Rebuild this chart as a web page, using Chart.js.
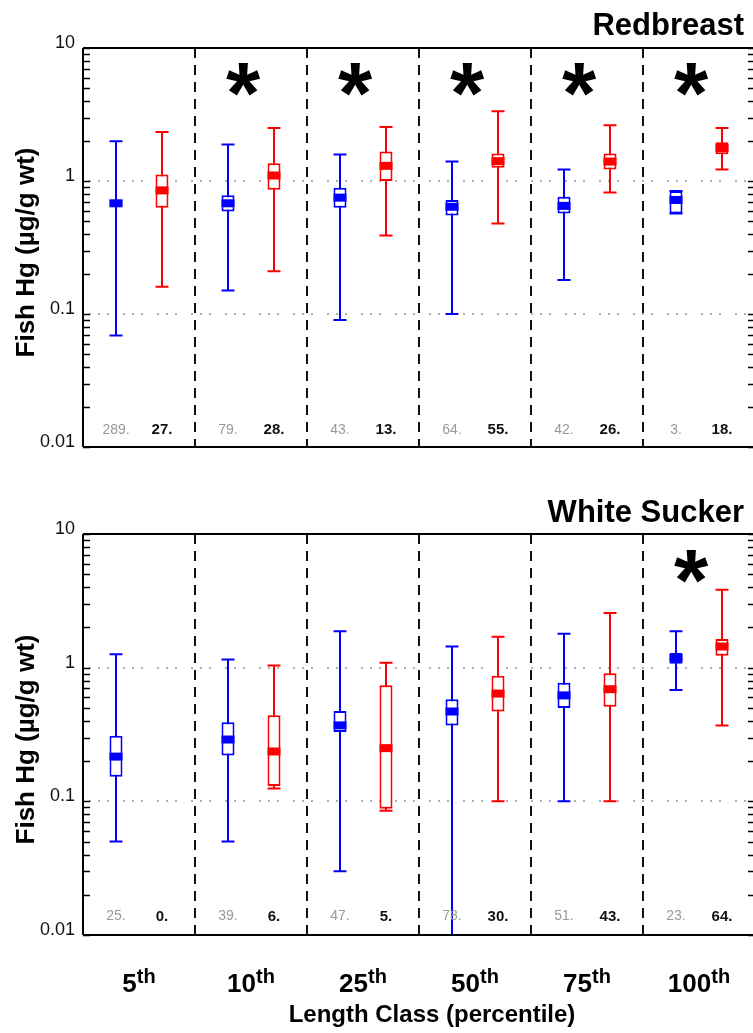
<!DOCTYPE html>
<html>
<head>
<meta charset="utf-8">
<script src="https://cdn.jsdelivr.net/npm/chart.js@4"></script>
<style>
	html, body { margin: 0; padding: 0; background: #fff; overflow: hidden; }
	canvas { display: block; }
</style>
</head>
<body>
<canvas id="rbChart" width="760" height="470"></canvas>
<canvas id="wsChart" width="760" height="563"></canvas>
<script>
// --- DONNEES --- //
const classes = ['5th','10th','25th','50th','75th','100th'];
const classNum = ['5','10','25','50','75','100'];
const gridValues = [0.1, 1];
const yTicks = [0.01, 0.1, 1, 10];
const yTickLabels = ['0.01','0.1','1','10'];

// Redbreast
const rbBlueMin = [0.069, 0.15, 0.09, 0.10, 0.18, 0.57];
const rbBlueQ1  = [0.64, 0.59, 0.63, 0.55, 0.57, 0.57];
const rbBlueMed = [0.68, 0.68, 0.75, 0.64, 0.65, 0.72];
const rbBlueQ3  = [0.72, 0.78, 0.89, 0.72, 0.76, 0.84];
const rbBlueMax = [1.99, 1.88, 1.58, 1.40, 1.22, 0.84];
const rbRedMin  = [0.16, 0.21, 0.39, 0.48, 0.82, 1.22];
const rbRedQ1   = [0.63, 0.86, 1.00, 1.26, 1.22, 1.59];
const rbRedMed  = [0.85, 1.10, 1.30, 1.41, 1.40, 1.77];
const rbRedQ3   = [1.12, 1.36, 1.67, 1.61, 1.61, 1.96];
const rbRedMax  = [2.34, 2.50, 2.55, 3.34, 2.62, 2.50];
const rbBlueN = [289, 79, 43, 64, 42, 3];
const rbRedN  = [27, 28, 13, 55, 26, 18];
const rbSignif = [false, true, true, true, true, true];

// White Sucker
const wsBlueMin = [0.05, 0.05, 0.03, 0.01, 0.10, 0.68];
const wsBlueQ1  = [0.153, 0.22, 0.33, 0.37, 0.50, 1.07];
const wsBlueMed = [0.216, 0.29, 0.37, 0.47, 0.62, 1.18];
const wsBlueQ3  = [0.31, 0.39, 0.475, 0.58, 0.77, 1.29];
const wsBlueMax = [1.26, 1.15, 1.87, 1.44, 1.79, 1.87];
const wsRedMin  = [null, 0.125, 0.085, 0.10, 0.10, 0.37];
const wsRedQ1   = [null, 0.13, 0.088, 0.47, 0.51, 1.23];
const wsRedMed  = [null, 0.236, 0.25, 0.64, 0.69, 1.44];
const wsRedQ3   = [null, 0.44, 0.74, 0.87, 0.91, 1.64];
const wsRedMax  = [null, 1.04, 1.09, 1.70, 2.56, 3.83];
const wsBlueN = [25, 39, 47, 78, 51, 23];
const wsRedN  = [0, 6, 5, 30, 43, 64];
const wsSignif = [false, false, false, false, false, true];

const BLUE = '#0000ff';
const RED = '#ff0000';
const FONT = "'Liberation Sans', Arial, sans-serif";

// --- PLUGIN BOITES --- //
const boxPlugin = {
	id: 'boxes',
	beforeDatasetsDraw(chart) {
		const { ctx, chartArea: a, scales: { x, y } } = chart;
		const p = chart.options.plugins.boxes;
		ctx.save();
		// lignes pointillees
		ctx.strokeStyle = '#b0b0b0';
		ctx.lineWidth = 2;
		ctx.setLineDash([2, 7, 2, 7, 2, 14]);
		gridValues.forEach(v => {
			const py = Math.round(y.getPixelForValue(v));
			ctx.beginPath(); ctx.moveTo(a.left + 6, py); ctx.lineTo(a.right, py); ctx.stroke();
		});
		// separateurs
		const half = (x.getPixelForValue(1) - x.getPixelForValue(0)) / 2;
		ctx.strokeStyle = '#111';
		ctx.setLineDash([10, 7]);
		for (let i = 1; i < classes.length; i++) {
			const px = Math.round(x.getPixelForValue(i) - half);
			ctx.beginPath(); ctx.moveTo(px, a.top); ctx.lineTo(px, a.bottom); ctx.stroke();
		}
		// moustaches
		ctx.setLineDash([]);
		ctx.beginPath(); ctx.rect(a.left, a.top, a.right - a.left, a.bottom - a.top); ctx.clip();
		p.series.forEach((s, d) => {
			const meta = chart.getDatasetMeta(d);
			ctx.strokeStyle = s.color;
			ctx.lineWidth = 2;
			meta.data.forEach((bar, i) => {
				if (s.min[i] == null) return;
				const cx = Math.round(bar.x);
				const y0 = y.getPixelForValue(s.min[i]);
				const y1 = y.getPixelForValue(s.max[i]);
				ctx.beginPath();
				ctx.moveTo(cx, y0); ctx.lineTo(cx, y1);
				ctx.moveTo(cx - 6.5, y0); ctx.lineTo(cx + 6.5, y0);
				ctx.moveTo(cx - 6.5, y1); ctx.lineTo(cx + 6.5, y1);
				ctx.stroke();
			});
		});
		ctx.restore();
	},
	afterDatasetsDraw(chart) {
		const { ctx, chartArea: a, scales: { x, y } } = chart;
		const p = chart.options.plugins.boxes;
		ctx.save();
		// medianes
		p.series.forEach((s, d) => {
			const meta = chart.getDatasetMeta(d);
			ctx.fillStyle = s.color;
			meta.data.forEach((bar, i) => {
				if (s.med[i] == null) return;
				const py = y.getPixelForValue(s.med[i]);
				ctx.fillRect(bar.x - bar.width / 2, py - 4, bar.width, 8);
			});
		});
		// effectifs
		ctx.textAlign = 'center';
		ctx.textBaseline = 'middle';
		p.series.forEach((s, d) => {
			const meta = chart.getDatasetMeta(d);
			ctx.fillStyle = s.countColor;
			ctx.font = s.countFont;
			meta.data.forEach((bar, i) => {
				ctx.fillText(s.n[i] + '.', bar.x, p.countY);
			});
		});
		// etoiles
		ctx.fillStyle = '#000';
		ctx.font = 'bold 88px ' + FONT;
		ctx.textAlign = 'center';
		ctx.textBaseline = 'alphabetic';
		p.signif.forEach((sig, i) => {
			if (!sig) return;
			ctx.fillText('*', x.getPixelForValue(i) - 8, p.starY + 45);
		});
		// axes
		ctx.strokeStyle = '#000';
		ctx.lineWidth = 2;
		ctx.beginPath();
		ctx.moveTo(a.left, a.top); ctx.lineTo(a.right, a.top);
		ctx.moveTo(a.left, a.bottom); ctx.lineTo(a.right, a.bottom);
		ctx.moveTo(a.left, a.top); ctx.lineTo(a.left, a.bottom);
		ctx.moveTo(a.right, a.top); ctx.lineTo(a.right, a.bottom);
		ctx.stroke();
		// graduations
		ctx.lineWidth = 1.5;
		ctx.beginPath();
		for (let k = -2; k <= 0; k++) {
			for (let j = 1; j <= 10; j++) {
				const py = Math.round(y.getPixelForValue(j * Math.pow(10, k))) + 0.5;
				ctx.moveTo(a.left, py); ctx.lineTo(a.left + 7, py);
				ctx.moveTo(a.right, py); ctx.lineTo(a.right - 7, py);
			}
		}
		ctx.stroke();
		// etiquettes y
		ctx.fillStyle = '#111';
		ctx.font = '18px ' + FONT;
		ctx.textAlign = 'right';
		ctx.textBaseline = 'middle';
		yTicks.forEach((v, i) => ctx.fillText(yTickLabels[i], a.left - 8, y.getPixelForValue(v) - 5));
		// titre y
		ctx.save();
		ctx.translate(34, (a.top + a.bottom) / 2 + 5);
		ctx.rotate(-Math.PI / 2);
		ctx.font = 'bold 26px ' + FONT;
		ctx.textAlign = 'center';
		ctx.textBaseline = 'alphabetic';
		ctx.fillStyle = '#000';
		ctx.fillText('Fish Hg (\u00b5g/g wt)', 0, 0);
		ctx.restore();
		// titre panneau
		ctx.fillStyle = '#000';
		ctx.font = 'bold 31px ' + FONT;
		ctx.textAlign = 'right';
		ctx.textBaseline = 'alphabetic';
		ctx.fillText(p.title, 744, p.titleY);
		// axe x
		if (p.xLabels) {
			ctx.textAlign = 'left';
			classNum.forEach((c, i) => {
				ctx.font = 'bold 26px ' + FONT;
				const w1 = ctx.measureText(c).width;
				ctx.font = 'bold 20px ' + FONT;
				const w2 = ctx.measureText('th').width;
				const sx = x.getPixelForValue(i) - (w1 + w2) / 2;
				ctx.font = 'bold 26px ' + FONT;
				ctx.fillText(c, sx, 522);
				ctx.font = 'bold 20px ' + FONT;
				ctx.fillText('th', sx + w1, 513);
			});
			ctx.font = 'bold 24px ' + FONT;
			ctx.textAlign = 'center';
			ctx.fillText('Length Class (percentile)', 432, 552);
		}
		ctx.restore();
	}
};

function makePanel(id, d) {
	const series = [
		{ color: BLUE, min: d.blueMin, med: d.blueMed, max: d.blueMax, n: d.blueN, countColor: '#999', countFont: '14px ' + FONT },
		{ color: RED, min: d.redMin, med: d.redMed, max: d.redMax, n: d.redN, countColor: '#111', countFont: 'bold 15px ' + FONT }
	];
	return new Chart(document.getElementById(id), {
		type: 'bar',
		data: {
			labels: classes,
			datasets: [
				{ data: d.blueQ1.map((q, i) => [q, d.blueQ3[i]]), backgroundColor: '#fff', borderColor: BLUE, borderWidth: 2, borderSkipped: false },
				{ data: d.redQ1.map((q, i) => q == null ? null : [q, d.redQ3[i]]), backgroundColor: '#fff', borderColor: RED, borderWidth: 2, borderSkipped: false }
			]
		},
		options: {
			responsive: false,
			animation: false,
			devicePixelRatio: 1,
			layout: { padding: d.padding },
			categoryPercentage: 0.8214,
			barPercentage: 0.2826,
			scales: {
				x: { display: false },
				y: { type: 'logarithmic', min: 0.01, max: 10, display: false }
			},
			plugins: {
				legend: { display: false },
				tooltip: { enabled: false },
				boxes: { series, signif: d.signif, countY: d.countY, starY: d.starY, title: d.title, titleY: d.titleY, xLabels: d.xLabels }
			}
		},
		plugins: [boxPlugin]
	});
}

makePanel('rbChart', {
	blueMin: rbBlueMin, blueQ1: rbBlueQ1, blueMed: rbBlueMed, blueQ3: rbBlueQ3, blueMax: rbBlueMax,
	redMin: rbRedMin, redQ1: rbRedQ1, redMed: rbRedMed, redQ3: rbRedQ3, redMax: rbRedMax,
	blueN: rbBlueN, redN: rbRedN, signif: rbSignif,
	padding: { left: 83, right: 5, top: 48, bottom: 23 },
	countY: 430, starY: 77.5, title: 'Redbreast', titleY: 35, xLabels: false
});

makePanel('wsChart', {
	blueMin: wsBlueMin, blueQ1: wsBlueQ1, blueMed: wsBlueMed, blueQ3: wsBlueQ3, blueMax: wsBlueMax,
	redMin: wsRedMin, redQ1: wsRedQ1, redMed: wsRedMed, redQ3: wsRedQ3, redMax: wsRedMax,
	blueN: wsBlueN, redN: wsRedN, signif: wsSignif,
	padding: { left: 83, right: 5, top: 64, bottom: 98 },
	countY: 446.5, starY: 95, title: 'White Sucker', titleY: 52, xLabels: true
});
</script>
</body>
</html>
